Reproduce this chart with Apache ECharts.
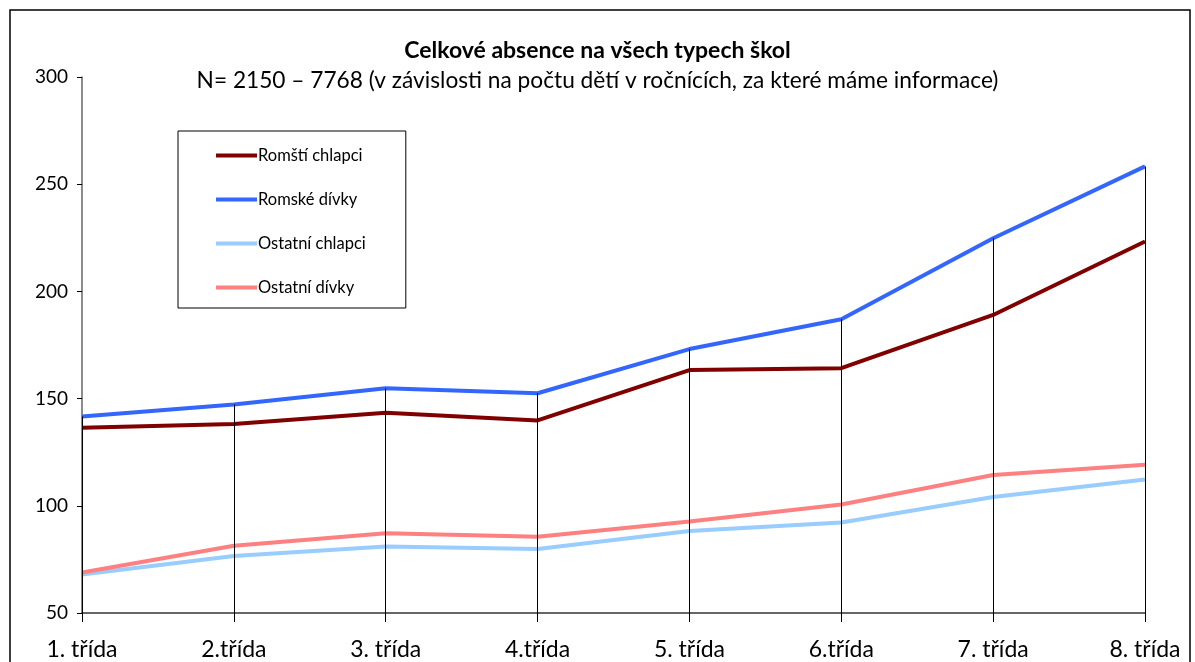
<!DOCTYPE html>
<html>
<head>
<meta charset="utf-8">
<script src="https://cdn.jsdelivr.net/npm/echarts@6/dist/echarts.min.js"></script>
<style>
html, body { margin: 0; padding: 0; background: #fff; }
#chart { width: 1195px; height: 662px; }
</style>
</head>
<body>
<div id="chart"></div>
<script>
const categories = ['1. třída', '2.třída', '3. třída', '4.třída', '5. třída', '6.třída', '7. třída', '8. třída']
const romaBoys = [136.4, 138.2, 143.4, 139.8, 163.3, 164.2, 189, 223.3]
const romaGirls = [141.7, 147.3, 154.8, 152.5, 173.1, 187, 224.8, 258.3]
const otherBoys = [68, 76.6, 81, 79.9, 88.2, 92.2, 104.1, 112.3]
const otherGirls = [68.9, 81.4, 87.2, 85.6, 92.7, 100.6, 114.4, 119.1]
const yTicks = [50, 100, 150, 200, 250, 300]

const font = 'Lato'

// drop lines from the highest point down to the axis, like in Excel
const dropLines = categories.map((c, i) => {
    const top = Math.max(romaBoys[i], romaGirls[i], otherBoys[i], otherGirls[i])
    return [{ coord: [i, top] }, { coord: [i, yTicks[0]] }]
})

const mkSeries = (name, data, color) => ({
    name: name,
    type: 'line',
    data: data,
    symbol: 'none',
    z: 3,
    lineStyle: { width: 4, color: color },
    itemStyle: { color: color }
})

const myChart = echarts.init(document.getElementById('chart'))
const option = {
    backgroundColor: '#fff',
    animation: false,
    title: {
        text: 'Celkové absence na všech typech škol',
        subtext: 'N= 2150 – 7768 (v závislosti na počtu dětí v ročnících, za které máme informace)',
        left: 'center',
        top: 34,
        padding: [5, 0, 5, 20],
        itemGap: 7,
        textStyle: { fontFamily: font, fontSize: 23, fontWeight: 'bold', color: '#000' },
        subtextStyle: { fontFamily: font, fontSize: 22.7, color: '#000' }
    },
    graphic: [{
        type: 'rect',
        shape: { x: 10, y: 10, width: 1180, height: 670 },
        style: { fill: 'none', stroke: '#000', lineWidth: 1.5 },
        silent: true
    }],
    legend: {
        orient: 'vertical',
        left: 178,
        top: 131,
        padding: [16, 40, 12, 38],
        itemGap: 27,
        itemWidth: 41,
        itemHeight: 4,
        icon: 'rect',
        borderColor: '#000',
        borderWidth: 1,
        textStyle: { fontFamily: font, fontSize: 16.5, color: '#000', lineHeight: 14, padding: [0, 0, 0, -4] }
    },
    grid: { left: 82, right: 50, top: 77, bottom: 49 },
    xAxis: {
        type: 'category',
        data: categories,
        boundaryGap: false,
        axisLine: { lineStyle: { color: '#666', width: 2 } },
        axisTick: { alignWithLabel: true, length: 9, lineStyle: { color: '#000' } },
        axisLabel: { fontFamily: font, fontSize: 23, color: '#000', margin: 25, interval: 0 },
        splitLine: { show: false }
    },
    yAxis: {
        type: 'value',
        min: 50,
        max: 300,
        interval: 50,
        axisLine: { show: true, lineStyle: { color: '#666', width: 1.5 } },
        axisTick: { show: true, length: 5, lineStyle: { color: '#000' } },
        axisLabel: { fontFamily: font, fontSize: 19, color: '#000', margin: 14 },
        splitLine: { show: false }
    },
    series: [
        Object.assign(mkSeries('Romští chlapci', romaBoys, '#800000'), {
            markLine: {
                silent: true,
                symbol: 'none',
                label: { show: false },
                lineStyle: { color: '#000', width: 1, type: 'solid' },
                data: dropLines
            }
        }),
        mkSeries('Romské dívky', romaGirls, '#3366ff'),
        mkSeries('Ostatní chlapci', otherBoys, '#99ccff'),
        mkSeries('Ostatní dívky', otherGirls, '#ff8080')
    ]
}
myChart.setOption(option)
</script>
</body>
</html>
